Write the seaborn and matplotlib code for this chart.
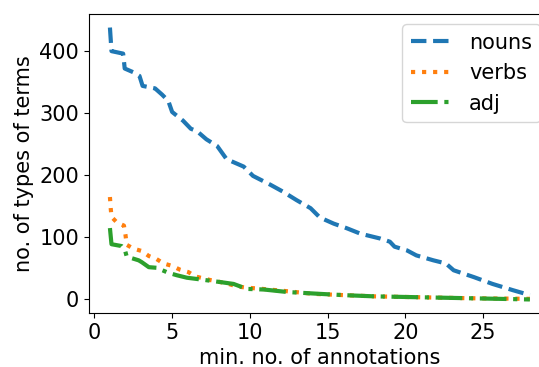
import matplotlib
matplotlib.use("Agg")
import matplotlib.pyplot as plt
import seaborn as sns

# ----------------------------------------
# Number of term types vs. minimum number of annotations
# ----------------------------------------

nouns_x = [1.0, 1.1, 1.85, 1.95, 2.5, 2.9, 3.1, 3.9, 4.35, 4.75, 5.0, 5.7, 6.2, 6.6,
           7.2, 7.9, 8.5, 9.6, 10.2, 11.3, 12.1, 13.0, 13.9, 14.5, 15.4, 16.2, 17.1,
           18.4, 19.0, 19.3, 20.1, 20.7, 21.8, 22.6, 23.1, 24.4, 25.6, 26.9, 28.0]
nouns_y = [438, 400, 396, 372, 366, 360, 344, 340, 330, 320, 302, 288, 275, 271,
           258, 247, 226, 214, 199, 185, 174, 160, 147, 132, 122, 115, 106,
           98, 93, 85, 79, 71, 63, 58, 47, 36, 25, 15, 7]

verbs_x = [1.0, 1.05, 1.1, 1.45, 1.9, 2.0, 2.08, 2.5, 3.05, 3.5, 4.0, 4.45, 5.0, 5.5,
           6.05, 6.5, 7.5, 8.5, 9.15, 9.8, 10.8, 12.1, 14.1, 16.0, 18.0, 20.0, 22.0,
           24.0, 26.0, 28.0]
verbs_y = [165, 147, 133, 124, 119, 104, 88, 82, 78, 70, 65, 58, 54, 48,
           44, 37, 31, 26, 21, 19, 17, 14, 9, 7, 5, 4, 3,
           2, 1.5, 1]

adj_x = [1.0, 1.1, 1.75, 1.97, 2.08, 2.85, 3.05, 3.5, 4.0, 4.75, 5.3, 5.95, 6.9, 8.1,
         8.95, 9.8, 10.9, 12.4, 14.5, 16.0, 18.0, 20.0, 22.0, 24.0, 26.0, 28.0]
adj_y = [115, 89, 86, 79, 69, 63, 60, 52, 51, 43, 39, 35, 32, 28,
         25, 17, 16, 12, 9, 7, 5, 4, 3, 2, 1, 0]

series = [
    ("nouns", nouns_x, nouns_y, "--", "#1f77b4"),
    ("verbs", verbs_x, verbs_y, ":", "#ff7f0e"),
    ("adj", adj_x, adj_y, "-.", "#2ca02c"),
]

plt.rcParams["font.size"] = 15

fig = plt.figure(figsize=(5.39, 3.67), dpi=100)
# axes runs slightly past the right edge, as in the reference crop
ax = fig.add_axes([0.165, 0.147, 0.857, 0.815])

for name, xs, ys, ls, col in series:
    sns.lineplot(x=xs, y=ys, ax=ax, label=name, linestyle=ls, color=col,
                 linewidth=3, sort=False, estimator=None)

ax.set_xlabel("min. no. of annotations")
ax.set_ylabel("no. of types of terms")
ax.set_xticks([0, 5, 10, 15, 20, 25])
ax.set_yticks([0, 100, 200, 300, 400])
ax.legend(loc="upper right")

fig.savefig("out.png", dpi=100)
